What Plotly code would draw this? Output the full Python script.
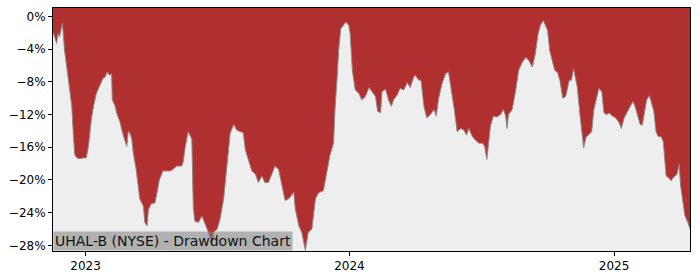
import plotly.graph_objects as go

# Drawdown (%)
dates = [
    "2022-11-17", "2022-11-22", "2022-11-24", "2022-11-26", "2022-11-30",
    "2022-12-03", "2022-12-06", "2022-12-09", "2022-12-13", "2022-12-15",
    "2022-12-17", "2022-12-20", "2022-12-24", "2022-12-29", "2023-01-02",
    "2023-01-05", "2023-01-07", "2023-01-09", "2023-01-12", "2023-01-14",
    "2023-01-16", "2023-01-21", "2023-01-25", "2023-01-28", "2023-01-31",
    "2023-02-03", "2023-02-06", "2023-02-07", "2023-02-11", "2023-02-13",
    "2023-02-18", "2023-02-21", "2023-02-24", "2023-02-27", "2023-03-01",
    "2023-03-03", "2023-03-06", "2023-03-08", "2023-03-12", "2023-03-15",
    "2023-03-17", "2023-03-22", "2023-03-24", "2023-03-27", "2023-03-29",
    "2023-04-02", "2023-04-07", "2023-04-10", "2023-04-13", "2023-04-18",
    "2023-04-28", "2023-05-02", "2023-05-07", "2023-05-14", "2023-05-16",
    "2023-05-19", "2023-05-23", "2023-05-28", "2023-05-30", "2023-06-01",
    "2023-06-06", "2023-06-11", "2023-06-15", "2023-06-20", "2023-06-25",
    "2023-06-27", "2023-07-02", "2023-07-06", "2023-07-11", "2023-07-15",
    "2023-07-18", "2023-07-20", "2023-07-25", "2023-07-29", "2023-08-03",
    "2023-08-07", "2023-08-10", "2023-08-14", "2023-08-19", "2023-08-24",
    "2023-08-28", "2023-09-02", "2023-09-06", "2023-09-11", "2023-09-16",
    "2023-09-20", "2023-09-25", "2023-09-30", "2023-10-04", "2023-10-09",
    "2023-10-13", "2023-10-16", "2023-10-18", "2023-10-23", "2023-10-27",
    "2023-11-01", "2023-11-05", "2023-11-10", "2023-11-15", "2023-11-19",
    "2023-11-26", "2023-12-01", "2023-12-05", "2023-12-10", "2023-12-12",
    "2023-12-15", "2023-12-17", "2023-12-20", "2023-12-24", "2023-12-27",
    "2023-12-31", "2024-01-02", "2024-01-05", "2024-01-09", "2024-01-14",
    "2024-01-18", "2024-01-23", "2024-01-28", "2024-02-01", "2024-02-06",
    "2024-02-09", "2024-02-13", "2024-02-15", "2024-02-20", "2024-02-24",
    "2024-02-28", "2024-03-02", "2024-03-07", "2024-03-11", "2024-03-16",
    "2024-03-21", "2024-03-25", "2024-03-30", "2024-04-01", "2024-04-06",
    "2024-04-09", "2024-04-13", "2024-04-17", "2024-04-22", "2024-04-27",
    "2024-04-30", "2024-05-03", "2024-05-08", "2024-05-13", "2024-05-17",
    "2024-05-22", "2024-05-25", "2024-05-29", "2024-06-03", "2024-06-07",
    "2024-06-11", "2024-06-14", "2024-06-19", "2024-06-23", "2024-06-28",
    "2024-07-03", "2024-07-06", "2024-07-09", "2024-07-12", "2024-07-14",
    "2024-07-18", "2024-07-23", "2024-07-28", "2024-08-01", "2024-08-04",
    "2024-08-06", "2024-08-08", "2024-08-13", "2024-08-18", "2024-08-22",
    "2024-08-27", "2024-09-01", "2024-09-05", "2024-09-10", "2024-09-14",
    "2024-09-18", "2024-09-21", "2024-09-25", "2024-09-28", "2024-10-01",
    "2024-10-04", "2024-10-08", "2024-10-11", "2024-10-15", "2024-10-18",
    "2024-10-22", "2024-10-26", "2024-10-31", "2024-11-03", "2024-11-06",
    "2024-11-09", "2024-11-11", "2024-11-15", "2024-11-18", "2024-11-20",
    "2024-11-23", "2024-11-27", "2024-12-01", "2024-12-04", "2024-12-08",
    "2024-12-11", "2024-12-15", "2024-12-18", "2024-12-22", "2024-12-25",
    "2024-12-30", "2025-01-03", "2025-01-08", "2025-01-11", "2025-01-15",
    "2025-01-20", "2025-01-24", "2025-01-27", "2025-01-30", "2025-02-02",
    "2025-02-06", "2025-02-09", "2025-02-12", "2025-02-15", "2025-02-19",
    "2025-02-22", "2025-02-25", "2025-02-28", "2025-03-03", "2025-03-07",
    "2025-03-10", "2025-03-14", "2025-03-17", "2025-03-21", "2025-03-24",
    "2025-03-29", "2025-04-01", "2025-04-03", "2025-04-07", "2025-04-09",
    "2025-04-13", "2025-04-16",
]

drawdown = [
    -1.9, -3.3, -2.1, -2.5, -0.85,
    -4.2, -6.2, -8.6, -11.0, -14.2,
    -16.9, -17.3, -17.4, -17.3, -17.3,
    -15.9, -14.1, -12.6, -11.0, -10.2,
    -9.4, -8.4, -7.6, -7.4, -6.8,
    -7.2, -7.0, -10.2, -11.0, -11.8,
    -13.0, -14.2, -15.1, -15.9, -14.1,
    -14.2, -15.0, -16.7, -18.7, -20.7,
    -22.3, -23.2, -25.2, -25.6, -23.6,
    -22.9, -22.8, -21.5, -20.0, -18.9,
    -18.9, -18.7, -18.3, -18.3, -17.8,
    -15.9, -14.1, -15.0, -23.2, -25.0,
    -25.2, -24.4, -25.4, -26.4, -28.0,
    -26.4, -26.0, -24.8, -22.3, -18.7,
    -16.7, -14.3, -13.2, -13.9, -14.1,
    -14.2, -16.3, -17.5, -18.9, -19.3,
    -20.3, -19.5, -20.3, -20.3, -19.1,
    -18.3, -18.7, -20.7, -22.5, -22.3,
    -21.9, -21.5, -23.5, -25.6, -26.4,
    -28.6, -26.4, -26.0, -22.3, -21.6,
    -21.3, -19.1, -17.0, -15.5, -11.4,
    -7.4, -4.2, -1.5, -1.1, -0.7,
    -1.1, -2.1, -6.6, -9.0, -9.4,
    -10.2, -9.8, -8.7, -9.2, -9.8,
    -11.6, -11.8, -9.2, -8.9, -10.2,
    -11.0, -10.2, -9.6, -8.8, -9.0,
    -8.1, -8.7, -7.4, -7.2, -7.8,
    -7.8, -11.0, -12.4, -12.0, -11.4,
    -12.2, -10.2, -8.2, -7.0, -6.8,
    -9.4, -11.4, -14.1, -13.7, -13.9,
    -14.5, -13.7, -14.7, -15.1, -15.5,
    -15.5, -15.9, -17.5, -14.9, -13.4,
    -12.2, -12.3, -12.0, -11.4, -12.2,
    -13.7, -12.0, -11.4, -9.0, -6.6,
    -5.6, -5.0, -5.4, -6.2, -4.6,
    -2.1, -1.1, -0.5, -1.1, -1.7,
    -4.2, -5.4, -6.6, -6.9, -7.8,
    -10.0, -9.8, -7.8, -7.8, -6.4,
    -7.8, -8.6, -12.2, -14.8, -16.1,
    -14.8, -14.4, -14.1, -11.4, -10.0,
    -8.8, -9.2, -11.8, -12.0, -11.8,
    -12.2, -12.4, -13.0, -13.7, -12.4,
    -11.6, -10.8, -10.4, -11.0, -12.0,
    -13.2, -13.3, -11.8, -10.2, -9.7,
    -10.8, -11.6, -14.1, -14.7, -14.7,
    -15.3, -19.5, -19.7, -20.1, -19.7,
    -19.3, -18.1, -20.7, -23.2, -24.4,
    -25.2, -26.0,
]

y_ticks = [0, -4, -8, -12, -16, -20, -24, -28]
x_ticks = ["2023-01-01", "2024-01-01", "2025-01-01"]
x_tick_labels = ["2023", "2024", "2025"]
title_text = "UHAL-B (NYSE) - Drawdown Chart"

Y_MIN, Y_MAX = -28.68, 1.02
RED = "#b03030"
BG = "#eeeeee"

fig = go.Figure()
# baseline below the visible range, so the grey fill reaches the plot bottom
fig.add_trace(go.Scatter(
    x=dates, y=[Y_MIN - 2] * len(dates), mode="lines",
    line=dict(width=0, color=BG), hoverinfo="skip", showlegend=False,
))
fig.add_trace(go.Scatter(
    x=dates, y=drawdown, mode="lines", fill="tonexty", fillcolor=BG,
    line=dict(width=1, color="#8a8a8a"), showlegend=False,
))

fig.update_layout(
    width=700, height=280,
    margin=dict(l=53, r=10, t=7, b=28),
    paper_bgcolor="white",
    plot_bgcolor=RED,
    font=dict(family="DejaVu Sans", size=12, color="black"),
    showlegend=False,
)
fig.update_xaxes(
    range=[dates[0], dates[-1]],
    tickvals=x_ticks, ticktext=x_tick_labels,
    showgrid=False, zeroline=False,
    showline=True, linecolor="black", linewidth=1, mirror=True,
    ticks="outside", ticklen=4, tickcolor="black", tickwidth=1,
    tickfont=dict(size=12),
)
fig.update_yaxes(
    range=[Y_MIN, Y_MAX],
    tickvals=y_ticks, ticktext=[("\u2212" if v < 0 else "") + f"{abs(v)}%" for v in y_ticks],
    showgrid=False, zeroline=False,
    showline=True, linecolor="black", linewidth=1, mirror=True,
    ticks="outside", ticklen=4, tickcolor="black", tickwidth=1,
    tickfont=dict(size=12),
)
fig.add_annotation(
    text=title_text, xref="paper", yref="paper", x=0, y=0,
    xanchor="left", yanchor="bottom", showarrow=False,
    font=dict(family="DejaVu Sans", size=14, color="#111111"),
    bgcolor="rgba(128,128,128,0.55)", borderpad=1,
)

fig.write_html("out.html")
